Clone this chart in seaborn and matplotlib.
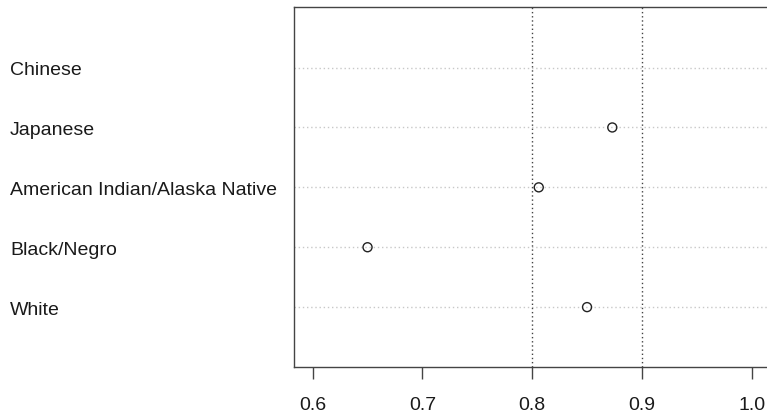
import numpy as np
import pandas as pd
import matplotlib
matplotlib.use("Agg")
import matplotlib.pyplot as plt
import seaborn as sns

categories = ["Chinese", "Japanese", "American Indian/Alaska Native", "Black/Negro", "White"]
values = [np.nan, 0.873, 0.806, 0.650, 0.850]
xticks = [0.6, 0.7, 0.8, 0.9, 1.0]
xtick_labels = ["0.6", "0.7", "0.8", "0.9", "1.0"]
ref_lines = [0.8, 0.9]

sns.set_theme(style="white")
plt.rcParams['font.family'] = ['Liberation Sans', 'DejaVu Sans']

n = len(categories)
df = pd.DataFrame({"group": categories, "value": values})
df["pos"] = np.arange(n, 0, -1)

W, H = 767, 414
fig = plt.figure(figsize=(W/100, H/100), dpi=100)
left, right, top, bottom = 294, 784.6, 7.5, 368
ax = fig.add_axes([left/W, (H-bottom)/H, (right-left)/W, (bottom-top)/H])

for p in df["pos"]:
    ax.axhline(p, color="#c8c8c8", lw=1, ls=(0, (1, 2)), zorder=1)
for r in ref_lines:
    ax.axvline(r, color="#444444", lw=1, ls=(0, (1, 2)), zorder=1)

sns.scatterplot(data=df, x="value", y="pos", ax=ax, marker="o", s=42,
                facecolor="none", edgecolor="#222222", linewidth=1, zorder=3)

ax.set_xlim(0.583, 1.03)
ax.set_ylim(0, 6.02)
ax.set_xticks(xticks)
ax.set_xticklabels(xtick_labels, fontsize=14, color="#1a1a1a")
ax.set_yticks(df["pos"])
ax.set_yticklabels(df["group"], fontsize=14, color="#1a1a1a", ha="left")
ax.tick_params(axis="y", length=0, pad=(left-10)*0.72)
ax.tick_params(axis="x", length=8.6, width=1, color="#444444", pad=12, bottom=True)
ax.set_xlabel("")
ax.set_ylabel("")
for s in ["left", "top", "bottom"]:
    ax.spines[s].set_color("#444444")
    ax.spines[s].set_linewidth(1)
ax.spines["right"].set_visible(False)

fig.savefig("out.png", dpi=100)
